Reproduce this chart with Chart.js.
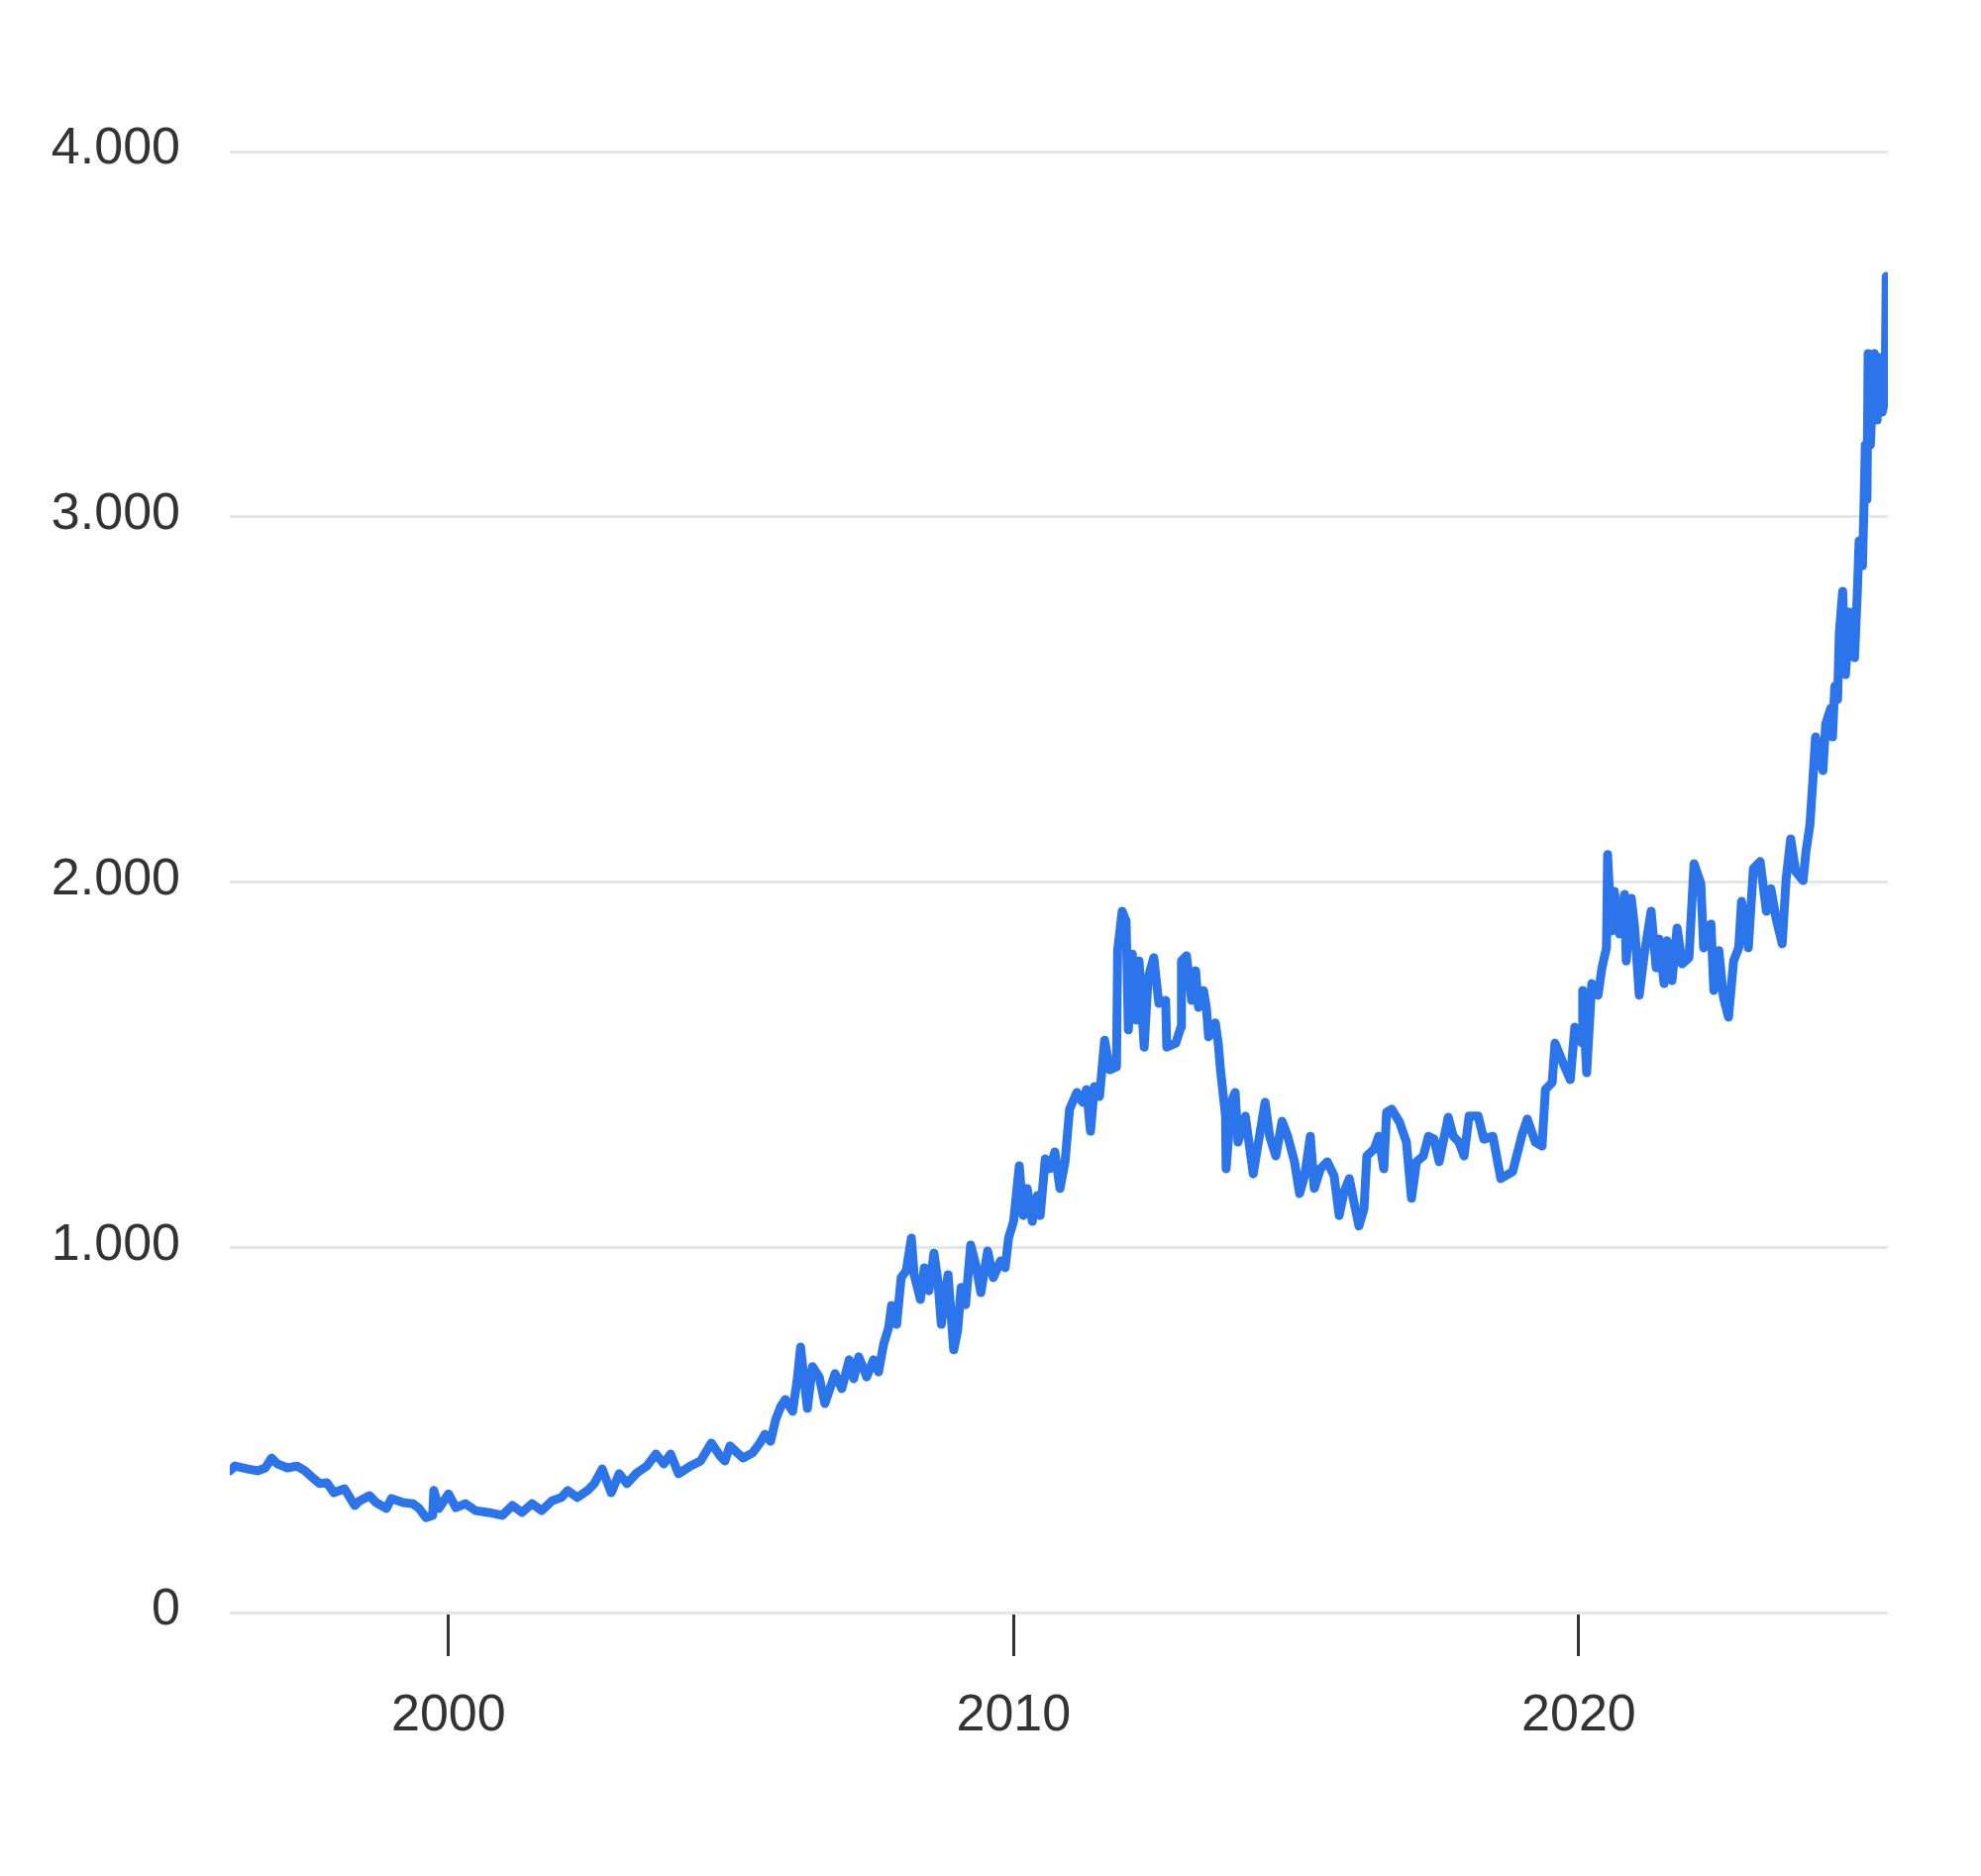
<!DOCTYPE html>
<html lang="de">
<head>
<meta charset="utf-8">
<title>Goldpreis</title>
<script src="https://cdn.jsdelivr.net/npm/chart.js@4.4.1/dist/chart.umd.min.js"></script>
<style>
  html, body { margin: 0; padding: 0; background: #fff; }
  #chart { display: block; }
</style>
</head>
<body>
<canvas id="chart" width="2000" height="1894"></canvas>
<script>
// Series: decimal year -> price.
const years = [
  1996.13, 1996.22, 1996.45, 1996.62, 1996.76, 1996.87, 1996.97, 1997.15, 1997.32, 1997.46,
  1997.62, 1997.72, 1997.85, 1997.97, 1998.16, 1998.34, 1998.43, 1998.60, 1998.72, 1998.90,
  1998.99, 1999.20, 1999.37, 1999.48, 1999.60, 1999.72, 1999.74, 1999.83, 2000.00, 2000.13,
  2000.30, 2000.48, 2000.70, 2000.95, 2001.13, 2001.30, 2001.48, 2001.65, 2001.83, 2002.00,
  2002.11, 2002.28, 2002.46, 2002.58, 2002.72, 2002.88, 2003.02, 2003.16, 2003.33, 2003.51,
  2003.67, 2003.81, 2003.93, 2004.07, 2004.28, 2004.46, 2004.65,
  2004.81, 2004.89, 2004.98, 2005.21, 2005.38, 2005.51, 2005.60, 2005.70, 2005.79, 2005.88,
  2005.96, 2006.09, 2006.17, 2006.23, 2006.35, 2006.44, 2006.56, 2006.66, 2006.84, 2006.96,
  2007.09, 2007.17, 2007.26, 2007.40, 2007.52, 2007.61, 2007.70, 2007.79, 2007.84, 2007.93,
  2008.01, 2008.10, 2008.19, 2008.24, 2008.35, 2008.42, 2008.50, 2008.59, 2008.66, 2008.72,
  2008.84, 2008.94, 2009.01, 2009.07, 2009.15, 2009.24, 2009.33, 2009.42, 2009.54, 2009.64,
  2009.77, 2009.85, 2009.91, 2010.00,
  2010.10, 2010.17, 2010.24, 2010.33, 2010.42, 2010.47, 2010.56, 2010.64, 2010.73, 2010.82,
  2010.91, 2010.99, 2011.12, 2011.22, 2011.29, 2011.36, 2011.43, 2011.52, 2011.61, 2011.70,
  2011.82, 2011.84, 2011.92, 2011.99, 2012.03, 2012.10, 2012.17, 2012.22, 2012.31, 2012.38,
  2012.48, 2012.57, 2012.69, 2012.71, 2012.87, 2012.96, 2012.97, 2013.06, 2013.15, 2013.22,
  2013.27, 2013.36, 2013.41, 2013.45, 2013.57, 2013.62, 2013.66, 2013.75, 2013.76, 2013.85,
  2013.92, 2013.97, 2014.10, 2014.24, 2014.32, 2014.45, 2014.53, 2014.64, 2014.75, 2014.85,
  2014.97, 2015.06, 2015.15, 2015.25, 2015.32, 2015.43, 2015.55, 2015.67, 2015.76, 2015.85,
  2015.94, 2016.02, 2016.11, 2016.20, 2016.25, 2016.38, 2016.46, 2016.55, 2016.60, 2016.69,
  2016.83, 2016.95, 2017.04, 2017.13, 2017.25, 2017.34, 2017.44, 2017.53, 2017.69, 2017.78,
  2017.88, 2017.97, 2018.06, 2018.22, 2018.32,
  2018.48, 2018.62, 2018.83, 2019.00, 2019.09, 2019.23, 2019.35, 2019.41, 2019.53, 2019.58,
  2019.72, 2019.85, 2019.93, 2020.06, 2020.07, 2020.14, 2020.23, 2020.34, 2020.41, 2020.49,
  2020.51, 2020.58, 2020.63, 2020.72, 2020.81, 2020.84, 2020.93, 2020.99, 2021.07, 2021.16,
  2021.28, 2021.37, 2021.42, 2021.51, 2021.56, 2021.65, 2021.74, 2021.83, 2021.95, 2022.04,
  2022.16, 2022.21, 2022.34, 2022.39, 2022.48, 2022.56, 2022.65, 2022.74, 2022.83, 2022.88,
  2023.00, 2023.09, 2023.21, 2023.32, 2023.40, 2023.49, 2023.60, 2023.67, 2023.75,
  2023.84, 2023.97, 2024.02, 2024.09, 2024.14, 2024.19, 2024.32, 2024.37, 2024.46, 2024.49,
  2024.53, 2024.58, 2024.61, 2024.67, 2024.72, 2024.79, 2024.88, 2024.93, 2024.96, 2025.02,
  2025.05, 2025.07, 2025.10, 2025.12, 2025.16, 2025.23, 2025.28, 2025.32, 2025.37, 2025.42,
  2025.44,
];

const prices = [
  388, 401, 393, 388, 396, 423, 407, 396, 401, 388,
  366, 353, 355, 328, 339, 293, 306, 320, 301, 285,
  312, 301, 298, 285, 260, 266, 334, 285, 325, 287,
  298, 279, 274, 266, 293, 274, 298, 279, 306, 315,
  334, 315, 334, 353, 393, 328, 380, 353, 382, 401,
  434, 407, 434, 380, 401, 415, 464,
  428, 415, 456, 423, 437, 464, 488, 469, 529, 564,
  583, 551, 637, 727, 559, 673, 645, 572, 654, 613,
  692, 640, 700, 645, 692, 659, 735, 781, 841, 789,
  917, 936, 1025, 925, 857, 944, 881, 984, 908, 789,
  925, 719, 773, 890, 843, 1006, 952, 876, 990, 917,
  963, 944, 1025, 1071,
  1223, 1087, 1161, 1071, 1142, 1087, 1242, 1215, 1261, 1161,
  1234, 1378, 1424, 1397, 1432, 1318, 1440, 1413, 1567, 1486,
  1494, 1812, 1920, 1893, 1595, 1803, 1622, 1784, 1548, 1738,
  1793, 1668, 1676, 1548, 1559, 1603, 1784, 1798, 1676, 1757,
  1657, 1703, 1657, 1576, 1614, 1559, 1486, 1359, 1215, 1397,
  1424, 1288, 1359, 1201, 1277, 1397, 1304, 1250, 1345, 1304,
  1234, 1147, 1196, 1304, 1161, 1215, 1234, 1196, 1087, 1153,
  1188, 1125, 1058, 1106, 1250, 1269, 1304, 1215, 1370, 1378,
  1342, 1288, 1134, 1234, 1250, 1304, 1296, 1234, 1356, 1304,
  1288, 1250, 1359, 1359, 1296,
  1304, 1188, 1207, 1310, 1351, 1288, 1277, 1432, 1451, 1559,
  1505, 1459, 1603, 1559, 1703, 1478, 1722, 1690, 1765, 1820,
  2075, 1866, 1974, 1858, 1966, 1784, 1955, 1874, 1690, 1803,
  1920, 1765, 1844, 1722, 1839, 1730, 1874, 1776, 1793, 2050,
  1996, 1820, 1885, 1703, 1812, 1684, 1630, 1784, 1820, 1947,
  1820, 2037, 2056, 1920, 1982, 1901, 1831, 2010, 2118,
  2028, 2004, 2083, 2156, 2273, 2397, 2305, 2433, 2476, 2397,
  2536, 2500, 2682, 2796, 2568, 2739, 2614, 2796, 2934, 2866,
  3048, 3197, 3048, 3447, 3197, 3447, 3265, 3436, 3287, 3322,
  3658,
];

const yearTicks = [2000, 2010, 2020];
const priceTicks = [0, 1000, 2000, 3000, 4000];

(function () {
  'use strict';

  const FONT = { family: '"Liberation Sans", Arial, Helvetica, sans-serif', size: 52 };
  const INK = '#333333';

  // German thousands separator: 4000 -> "4.000"
  const fmtPrice = (v) => String(v).replace(/\B(?=(\d{3})+(?!\d))/g, '.');

  const points = years.map((x, i) => ({ x, y: prices[i] }));

  new Chart(document.getElementById('chart'), {
    type: 'line',
    data: {
      datasets: [{
        data: points,
        borderColor: '#2c74ea',
        borderWidth: 9,
        borderJoinStyle: 'round',
        borderCapStyle: 'round',
        pointRadius: 0,
        fill: false,
        tension: 0,
      }],
    },
    options: {
      responsive: false,
      devicePixelRatio: 1,
      animation: false,
      events: [],
      layout: { padding: { top: 153, right: 94, bottom: 0, left: 0 } },
      plugins: { legend: { display: false }, tooltip: { enabled: false } },
      scales: {
        x: {
          type: 'linear',
          min: 1996.13,
          max: 2025.47,
          afterBuildTicks: (scale) => { scale.ticks = yearTicks.map((value) => ({ value })); },
          afterFit: (scale) => { scale.height = 266; },
          border: { display: false },
          // Only the short dark tick marks under the baseline.
          grid: { drawOnChartArea: false, drawTicks: true, tickLength: 44, color: INK, lineWidth: 3 },
          ticks: {
            color: INK,
            font: FONT,
            padding: 29,
            maxRotation: 0,
            callback: (v) => String(v),
          },
        },
        y: {
          min: 0,
          max: 4000,
          afterBuildTicks: (scale) => { scale.ticks = priceTicks.map((value) => ({ value })); },
          afterFit: (scale) => { scale.width = 232; },
          border: { display: false },
          grid: { color: '#e6e6e6', lineWidth: 3, drawTicks: false },
          ticks: {
            color: INK,
            font: FONT,
            padding: 50,
            labelOffset: -2,
            callback: (v) => fmtPrice(v),
          },
        },
      },
    },
  });
})();
</script>
</body>
</html>
